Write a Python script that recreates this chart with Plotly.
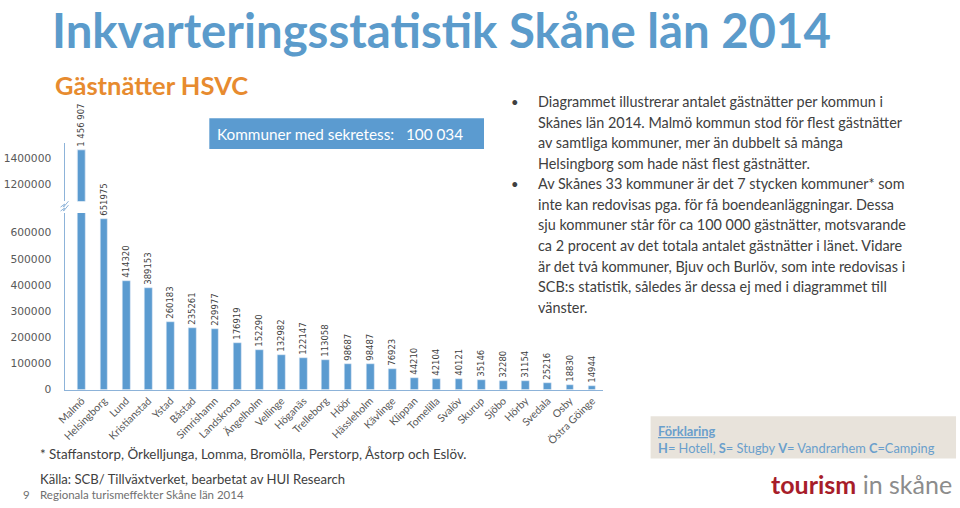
import plotly.graph_objects as go

# ---------------- data ----------------
kommuner = ["Malmö", "Helsingborg", "Lund", "Kristianstad", "Ystad", "Båstad", "Simrishamn",
            "Landskrona", "Ängelholm", "Vellinge", "Höganäs", "Trelleborg", "Höör", "Hässleholm",
            "Kävlinge", "Klippan", "Tomelilla", "Svalöv", "Skurup", "Sjöbo", "Hörby", "Svedala",
            "Osby", "Östra Göinge"]
gastnatter = [1456907, 651975, 414320, 389153, 260183, 235261, 229977, 176919, 152290, 132982,
              122147, 113058, 98687, 98487, 76923, 44210, 42104, 40121, 35146, 32280, 31154,
              25216, 18830, 14944]
lower_ticks = [0, 100000, 200000, 300000, 400000, 500000, 600000]
upper_ticks = [1200000, 1400000]
sekretess = "100 034"

W, H = 960, 508
def px(x):
    return x / W
def py(y):
    return 1 - y / H

def fmt(v):
    return f"{v:,}".replace(",", " ") if v >= 1000000 else str(v)

BAR = "#5B9BD0"
AX = "#8DB3D9"
TXT = "#404040"
LAB = "#595959"

fig = go.Figure()

rest_x = kommuner[1:]
rest_y = gastnatter[1:]
# lower segment, all but the largest
fig.add_trace(go.Bar(x=rest_x, y=rest_y, text=[fmt(v) for v in rest_y],
                     textposition="outside", textangle=-90, constraintext="none",
                     cliponaxis=False, marker_color=BAR, width=0.35,
                     textfont=dict(family="DejaVu Sans", size=8.5, color=TXT),
                     xaxis="x", yaxis="y", showlegend=False))
# lower segment of the largest (clipped at break)
fig.add_trace(go.Bar(x=kommuner[:1], y=gastnatter[:1], cliponaxis=True, marker_color=BAR,
                     width=0.35, xaxis="x", yaxis="y", showlegend=False))
# upper segment of the largest
fig.add_trace(go.Bar(x=kommuner[:1], y=gastnatter[:1], cliponaxis=True, marker_color=BAR,
                     width=0.35, xaxis="x", yaxis="y2", showlegend=False))
# label of the largest
fig.add_trace(go.Bar(x=kommuner[:1], y=gastnatter[:1], text=[fmt(v) for v in gastnatter[:1]],
                     textposition="outside", textangle=-90, constraintext="none",
                     cliponaxis=False, marker_color="rgba(0,0,0,0)", width=0.35,
                     textfont=dict(family="DejaVu Sans", size=8.5, color=TXT),
                     xaxis="x", yaxis="y2", showlegend=False))

ax_l, ax_r = 57, 600
first_c, step = 74.5, 22.37
xr = [(ax_l - first_c) / step, (ax_r - first_c) / step]

low_top, low_bot = 216, 395
pxper_low = 26.5 / 100000
up_top, up_bot = 145, 204
pxper_up = 13.5 / 100000
y_low_max = (low_bot - low_top) / pxper_low
y_up_min = 1200000 - (up_bot - 187) / pxper_up
y_up_max = 1200000 + (187 - up_top) / pxper_up

fig.update_layout(
    width=W, height=H, margin=dict(l=0, r=0, t=0, b=0),
    paper_bgcolor="white", plot_bgcolor="rgba(0,0,0,0)",
    barmode="overlay", bargap=0,
    xaxis=dict(domain=[px(ax_l), px(ax_r)], range=xr, categoryorder="array",
               categoryarray=kommuner, tickangle=-45, showgrid=False, zeroline=False,
               showline=True, linecolor=AX, linewidth=1.2, ticks="",
               tickfont=dict(family="Lato", size=10.5, color=LAB), anchor="y"),
    yaxis=dict(domain=[py(low_bot), py(low_top)], range=[0, y_low_max], tickvals=lower_ticks,
               ticktext=[str(v) for v in lower_ticks], showgrid=False, zeroline=False,
               showline=True, linecolor=AX, linewidth=1.2, ticks="", ticklabelstandoff=10,
               tickfont=dict(family="DejaVu Sans", size=10.7, color=LAB), anchor="x"),
    yaxis2=dict(domain=[py(up_bot), py(up_top)], range=[y_up_min, y_up_max], tickvals=upper_ticks,
                ticktext=[str(v) for v in upper_ticks], showgrid=False, zeroline=False,
                showline=True, linecolor=AX, linewidth=1.2, ticks="", ticklabelstandoff=10,
                tickfont=dict(family="DejaVu Sans", size=10.7, color=LAB), anchor="x"),
)

# axis break mark
fig.add_shape(type="path", xref="paper", yref="paper",
              path=f"M {px(53)} {py(210)} L {px(57)} {py(207)} L {px(56)} {py(210)} L {px(61)} {py(204)}",
              line=dict(color=AX, width=1))
fig.add_shape(type="path", xref="paper", yref="paper",
              path=f"M {px(53)} {py(214)} L {px(57)} {py(211)} L {px(56)} {py(214)} L {px(61)} {py(208)}",
              line=dict(color=AX, width=1))

anns = []
def txt(x, y, s, size, color, family="Lato", xanchor="left", yanchor="middle"):
    anns.append(dict(x=px(x), y=py(y), xref="paper", yref="paper", text=s, showarrow=False,
                     xanchor=xanchor, yanchor=yanchor, align="left",
                     font=dict(family=family, size=size, color=color)))

# titles
anns.append(dict(x=px(43), y=1, xref="paper", yref="paper",
                 text="<b>Inkvarteringsstatistik Skåne län 2014</b>", showarrow=False,
                 xanchor="left", yanchor="top", align="left", borderpad=0,
                 font=dict(family="Lato", size=47.3, color="#5B9BCB")))
txt(45, 86, "<b>Gästnätter HSVC</b>", 25.5, "#E78B2F")

# blue box
fig.add_shape(type="rect", xref="paper", yref="paper", x0=px(203), x1=px(480), y0=py(151), y1=py(120),
              fillcolor="#5B9BD0", line=dict(width=0), layer="below")
txt(209, 135.5, "Kommuner med sekretess:&nbsp;&nbsp;&nbsp;" + sekretess, 15.3, "white")

# right text
lines = [
    ("•", "Diagrammet illustrerar antalet gästnätter per kommun i"),
    (None, "Skånes län 2014. Malmö kommun stod för flest gästnätter"),
    (None, "av samtliga kommuner, mer än dubbelt så många"),
    (None, "Helsingborg som hade näst flest gästnätter."),
    ("•", "Av Skånes 33 kommuner är det 7 stycken kommuner* som"),
    (None, "inte kan redovisas pga. för få boendeanläggningar. Dessa"),
    (None, "sju kommuner står för ca 100 000 gästnätter, motsvarande"),
    (None, "ca 2 procent av det totala antalet gästnätter i länet. Vidare"),
    (None, "är det två kommuner, Bjuv och Burlöv, som inte redovisas i"),
    (None, "SCB:s statistik, således är dessa ej med i diagrammet till"),
    (None, "vänster."),
]
for i, (b, s) in enumerate(lines):
    y = 103 + i * 20.85
    if b:
        txt(505, y, b, 13, TXT)
    txt(532, y, s, 14.4, TXT)

# footnotes
txt(30, 460, "* Staffanstorp, Örkelljunga, Lomma, Bromölla, Perstorp, Åstorp och Eslöv.", 13.4, TXT)
txt(30, 486, "Källa: SCB/ Tillväxtverket, bearbetat av HUI Research", 13.1, TXT)
txt(30, 501, "Regionala turismeffekter Skåne län 2014", 11.5, "#6F6F6F")
txt(13, 501, "9", 11.5, "#6F6F6F")

# legend box
fig.add_shape(type="rect", xref="paper", yref="paper", x0=px(648), x1=px(956), y0=py(465), y1=py(422),
              fillcolor="#E8E3DB", line=dict(width=0), layer="below")
LB = "#6A9FCC"
txt(653, 437, "<b><span style='text-decoration:underline'>Förklaring</span></b>", 12.8, LB)
txt(653, 454, "<b>H</b>= Hotell, <b>S</b>= Stugby <b>V</b>= Vandrarhem <b>C</b>=Camping", 12.8, LB)

# logo
txt(954, 491, "<b><span style='color:#A71D2A'>tourism</span></b> <span style='color:#8C8C8C'>in skåne</span>",
    25, "#8C8C8C", xanchor="right")

fig.update_layout(annotations=anns)
fig.write_html("out.html")
